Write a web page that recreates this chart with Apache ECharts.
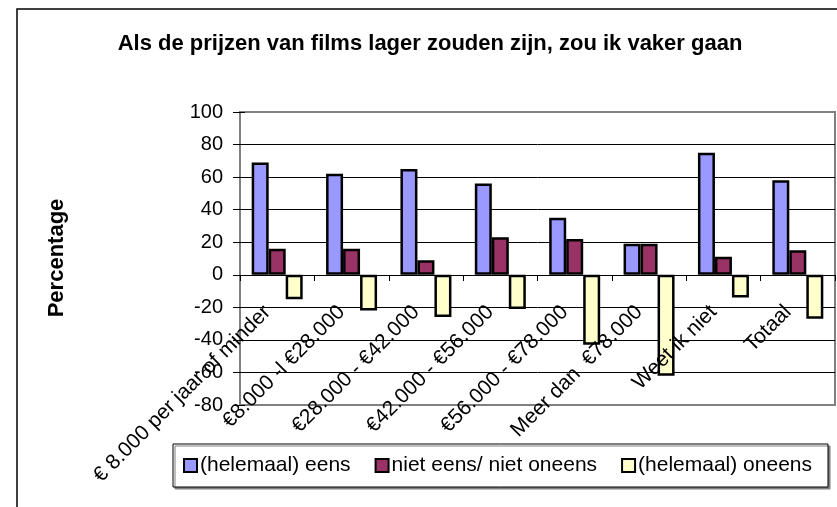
<!DOCTYPE html>
<html>
<head>
<meta charset="utf-8">
<title>Als de prijzen van films lager zouden zijn</title>
<script src="https://cdn.jsdelivr.net/npm/echarts@6/dist/echarts.min.js"></script>
<style>
  html, body { margin: 0; padding: 0; background: #fff; }
  #chart { width: 837px; height: 507px; }
</style>
</head>
<body>
<div id="chart"></div>
<script>
// inkomensgroepen
const categories = [
  '€ 8.000 per jaar of minder',
  '€8.000 -l €28.000',
  '€28.000 - €42.000',
  '€42.000 - €56.000',
  '€56.000 - €78.000',
  'Meer dan  €78.000',
  'Weet ik niet',
  'Totaal'
];
const seriesNames = ['(helemaal) eens', 'niet eens/ niet oneens', '(helemaal) oneens'];
const eens = [69, 62, 65, 56, 35, 19, 75, 58];
const neutraal = [16, 16, 9, 23, 22, 19, 11, 15];
const oneens = [-15, -22, -26, -21, -43, -62, -14, -27];
const yTicks = [-80, -60, -40, -20, 0, 20, 40, 60, 80, 100];

const font = '"Liberation Sans", Arial, sans-serif';
const colors = ['#9999ff', '#993366', '#ffffcc'];

const chart = echarts.init(document.getElementById('chart'));

function bar(name, data, color) {
  return {
    name: name,
    type: 'bar',
    data: data,
    barWidth: 17,
    barGap: '0%',
    itemStyle: {color: color, borderColor: '#000', borderWidth: 2.5},
  };
}

// bovenste en onderste rasterlijn zijn grijs (rand van plotvlak)
const gridColors = yTicks.map((v, i) =>
  i === 0 || i === yTicks.length - 1 ? '#808080' : '#000'
);

chart.setOption({
  animation: false,
  textStyle: {fontFamily: font},
  grid: {
    left: 240,
    right: 2,
    top: 112,
    bottom: 102,
    show: true,
    borderColor: '#808080',
    borderWidth: 2,
    containLabel: false,
    outerBoundsMode: 'none',
  },
  legend: {
    left: 173,
    top: 444,
    padding: [11, 16, 11, 10],
    itemGap: 24,
    itemWidth: 13,
    itemHeight: 13,
    icon: 'rect',
    backgroundColor: '#fff',
    borderColor: '#000',
    borderWidth: 1,
    shadowColor: '#808080',
    shadowOffsetX: 2,
    shadowOffsetY: 2,
    data: seriesNames,
    itemStyle: {borderColor: '#000', borderWidth: 2},
    textStyle: {fontSize: 21, lineHeight: 21, color: '#000', fontFamily: font, padding: [0, 0, 0, -2]},
  },
  xAxis: {
    type: 'category',
    data: categories,
    position: 'bottom',
    // as ligt op de nullijn: 130 px boven de onderrand van het plotvlak
    offset: -130,
    z: 10, // labels boven de staven
    axisLine: {onZero: false, lineStyle: {color: '#000', width: 1}},
    axisTick: {show: true, interval: 0, length: 6, lineStyle: {color: '#000'}},
    axisLabel: {
      interval: 0,
      rotate: 45,
      margin: 24,
      padding: [0, 14, 0, 0],
      fontSize: 21,
      color: '#000',
      fontFamily: font,
      hideOverlap: false,
    },
    splitLine: {show: false},
  },
  yAxis: [
    {
      type: 'value',
      min: -80,
      max: 100,
      interval: 20,
      axisLine: {show: true, lineStyle: {color: '#808080', width: 2}},
      axisTick: {show: true, length: 7, lineStyle: {color: '#000'}},
      axisLabel: {fontSize: 20, color: '#000', margin: 17, fontFamily: font},
      splitLine: {show: true, lineStyle: {color: gridColors, width: 1}},
    },
    {
      // binnenste helft van de kruisende maatstreepjes
      type: 'value',
      position: 'left',
      min: -80,
      max: 100,
      interval: 20,
      axisLine: {show: false},
      axisTick: {show: true, inside: true, length: 5, lineStyle: {color: '#000'}},
      axisLabel: {show: false},
      splitLine: {show: false},
    },
  ],
  graphic: [
    {
      type: 'rect',
      shape: {x: 17, y: 9, width: 900, height: 600},
      style: {fill: 'none', stroke: '#000', lineWidth: 1.5},
      silent: true,
      z: -10,
    },
    {
      type: 'text',
      x: 430,
      y: 44,
      style: {
        text: 'Als de prijzen van films lager zouden zijn, zou ik vaker gaan',
        font: 'bold 22px ' + font,
        fill: '#000',
        textAlign: 'center',
        textVerticalAlign: 'middle',
      },
    },
    {
      type: 'text',
      x: 57,
      y: 258,
      rotation: Math.PI / 2,
      style: {
        text: 'Percentage',
        font: 'bold 22px ' + font,
        fill: '#000',
        textAlign: 'center',
        textVerticalAlign: 'middle',
      },
    },
  ],
  series: [
    bar(seriesNames[0], eens, colors[0]),
    bar(seriesNames[1], neutraal, colors[1]),
    bar(seriesNames[2], oneens, colors[2]),
  ],
});
</script>
</body>
</html>
